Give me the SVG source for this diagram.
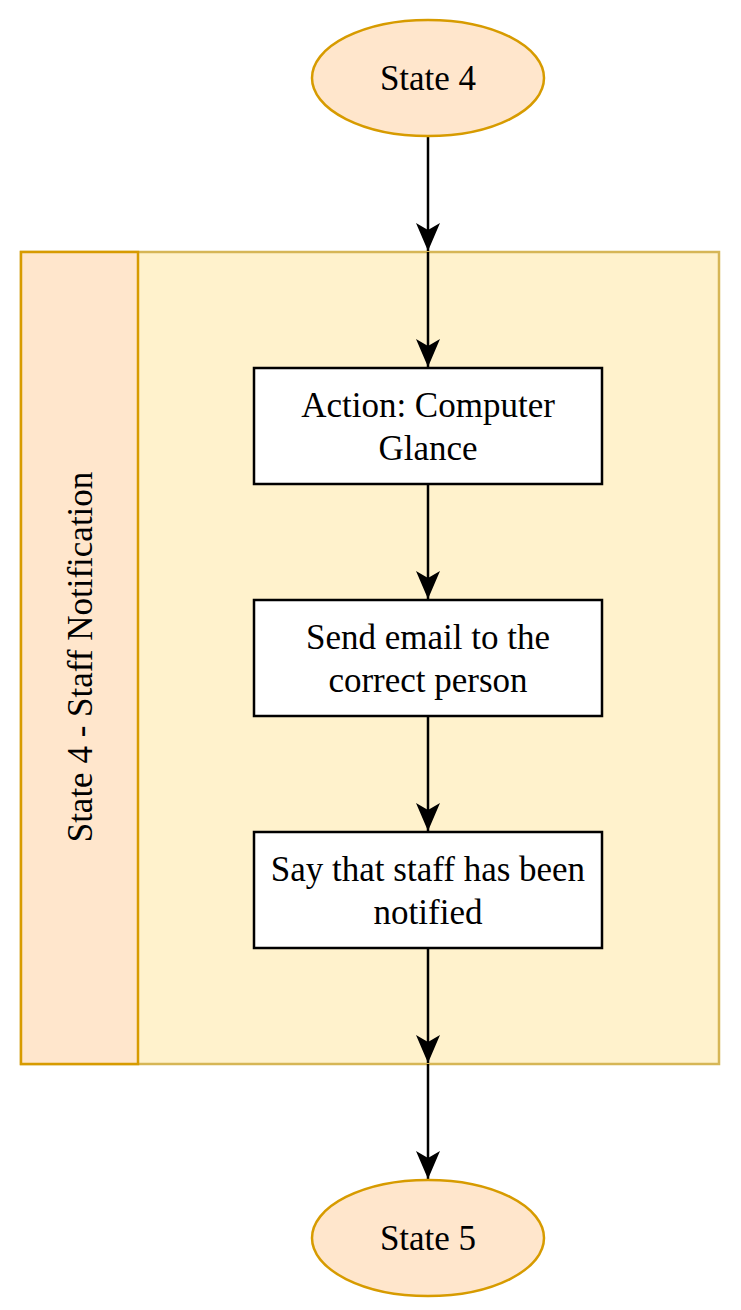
<svg xmlns="http://www.w3.org/2000/svg" width="741" height="1310" viewBox="0 0 741 1310">
<style>
.t{font-family:"Liberation Serif","Times New Roman",serif;font-size:35px;fill:#000;text-anchor:middle}
.state{fill:#ffe6cc;stroke:#d79b00;stroke-width:2.5}
.box{fill:#ffffff;stroke:#000;stroke-width:2.5}
.edge{stroke:#000;stroke-width:2.5;fill:none}
</style>
<defs>
<marker id="arr" markerUnits="userSpaceOnUse" markerWidth="30" markerHeight="30" viewBox="0 0 30 30" refX="28" refY="15" orient="auto">
<path d="M0,3 L28,15 L0,27 L7,15 Z" fill="#000"/>
</marker>
</defs>
<g id="container">
<rect x="21" y="252" width="698" height="812" fill="#fff2cc" stroke="#d6b656" stroke-width="2.5"/>
<rect x="21" y="252" width="117" height="812" fill="#ffe6cc" stroke="#d79b00" stroke-width="2.5"/>
<text class="t" transform="translate(80,657) rotate(-90)" x="0" y="12">State 4 - Staff Notification</text>
</g>
<g id="connectors">
<line class="edge" x1="428" y1="136" x2="428" y2="251" marker-end="url(#arr)"/>
<line class="edge" x1="428" y1="252" x2="428" y2="367" marker-end="url(#arr)"/>
<line class="edge" x1="428" y1="484" x2="428" y2="599" marker-end="url(#arr)"/>
<line class="edge" x1="428" y1="716" x2="428" y2="831" marker-end="url(#arr)"/>
<line class="edge" x1="428" y1="948" x2="428" y2="1063" marker-end="url(#arr)"/>
<line class="edge" x1="428" y1="1064" x2="428" y2="1179" marker-end="url(#arr)"/>
</g>
<g id="state4">
<ellipse class="state" cx="428" cy="78" rx="116" ry="58"/>
<text class="t" x="428" y="90">State 4</text>
</g>
<g id="action">
<rect class="box" x="254" y="368" width="348" height="116"/>
<text class="t" x="428" y="417">Action: Computer</text>
<text class="t" x="428" y="460">Glance</text>
</g>
<g id="email">
<rect class="box" x="254" y="600" width="348" height="116"/>
<text class="t" x="428" y="649">Send email to the</text>
<text class="t" x="428" y="692">correct person</text>
</g>
<g id="notified">
<rect class="box" x="254" y="832" width="348" height="116"/>
<text class="t" x="428" y="881">Say that staff has been</text>
<text class="t" x="428" y="924">notified</text>
</g>
<g id="state5">
<ellipse class="state" cx="428" cy="1238" rx="116" ry="58"/>
<text class="t" x="428" y="1250">State 5</text>
</g>
</svg>
